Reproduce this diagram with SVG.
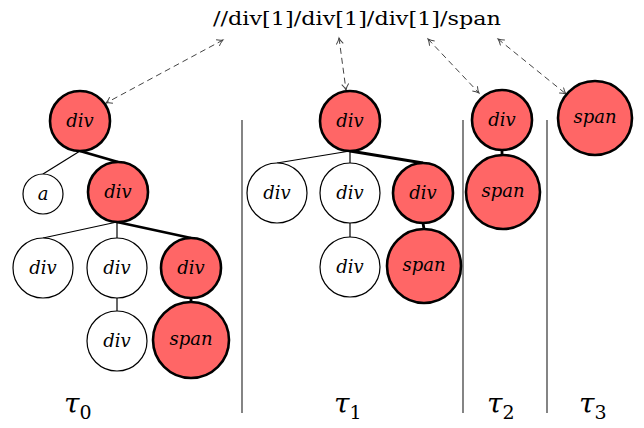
<svg xmlns="http://www.w3.org/2000/svg" width="644" height="428" viewBox="0 0 644 428">
<defs>
<marker id="ah" markerWidth="10" markerHeight="10" refX="7" refY="4" orient="auto-start-reverse" markerUnits="userSpaceOnUse">
<path d="M1,0.5 Q4,3 7,4 Q4,5 1,7.5" fill="none" stroke="#444" stroke-width="1"/>
</marker>
<style>
.w{fill:#fff;stroke:#000;stroke-width:1.2}
.r{fill:#ff6666;stroke:#000;stroke-width:2.6}
.t{font-family:"DejaVu Serif","Liberation Serif",serif;font-style:italic;font-size:18px;text-anchor:middle}
.e{stroke:#000;stroke-width:1.2;fill:none}
.eb{stroke:#000;stroke-width:2.8;fill:none}
.sep{stroke:#333;stroke-width:1.2}
.d{stroke:#444;stroke-width:1;stroke-dasharray:6 4;fill:none;marker-start:url(#ah);marker-end:url(#ah)}
.tau{font-family:"DejaVu Serif","Liberation Serif",serif;font-style:italic;font-size:28px}
.sub{font-family:"DejaVu Serif","Liberation Serif",serif;font-style:normal;font-size:19px}
.top{font-family:"DejaVu Serif","Liberation Serif",serif;font-size:19px}
</style>
</defs>
<rect width="644" height="428" fill="#fff"/>
<text class="top" x="213" y="25" textLength="288" lengthAdjust="spacingAndGlyphs">//div[1]/div[1]/div[1]/span</text>
<g id="connectors">
<line class="e" x1="80" y1="151" x2="43" y2="174"/>
<line class="eb" x1="80" y1="151" x2="118" y2="162"/>
<line class="e" x1="117" y1="222" x2="43" y2="238"/>
<line class="e" x1="117" y1="222" x2="117" y2="238"/>
<line class="eb" x1="117" y1="222" x2="191" y2="238"/>
<line class="e" x1="117" y1="298" x2="117" y2="312"/>
<line class="eb" x1="191" y1="298" x2="191" y2="303"/>
<line class="e" x1="350" y1="151" x2="277" y2="163"/>
<line class="e" x1="350" y1="151" x2="350" y2="163"/>
<line class="eb" x1="350" y1="151" x2="423" y2="163"/>
<line class="e" x1="350" y1="223" x2="350" y2="237"/>
<line class="eb" x1="423" y1="223" x2="424" y2="229"/>
<line class="eb" x1="502" y1="150" x2="502" y2="156"/>
<line class="d" x1="223" y1="40" x2="106" y2="103"/>
<line class="d" x1="339" y1="38" x2="346" y2="90"/>
<line class="d" x1="428" y1="39" x2="479" y2="93"/>
<line class="d" x1="498" y1="39" x2="566" y2="94"/>
</g>
<g id="separators">
<line class="sep" x1="242" y1="120" x2="242" y2="413"/>
<line class="sep" x1="463" y1="120" x2="463" y2="413"/>
<line class="sep" x1="547" y1="120" x2="547" y2="413"/>
</g>
<g id="t0-div-root"><circle class="r" cx="80" cy="121" r="30"/><text class="t" x="80" y="127">div</text></g>
<g id="t0-a"><circle class="w" cx="43" cy="194" r="20"/><text class="t" x="43" y="200">a</text></g>
<g id="t0-div-2"><circle class="r" cx="118" cy="192" r="30"/><text class="t" x="118" y="198">div</text></g>
<g id="t0-div-3a"><circle class="w" cx="43" cy="268" r="30"/><text class="t" x="43" y="274">div</text></g>
<g id="t0-div-3b"><circle class="w" cx="117" cy="268" r="30"/><text class="t" x="117" y="274">div</text></g>
<g id="t0-div-3c"><circle class="r" cx="191" cy="268" r="30"/><text class="t" x="191" y="274">div</text></g>
<g id="t0-div-4"><circle class="w" cx="117" cy="341" r="30"/><text class="t" x="117" y="347">div</text></g>
<g id="t0-span"><circle class="r" cx="191" cy="340" r="38"/><text class="t" x="191" y="345">span</text></g>
<g id="t1-div-root"><circle class="r" cx="350" cy="121" r="30"/><text class="t" x="350" y="127">div</text></g>
<g id="t1-div-a"><circle class="w" cx="277" cy="193" r="30"/><text class="t" x="277" y="199">div</text></g>
<g id="t1-div-b"><circle class="w" cx="350" cy="193" r="30"/><text class="t" x="350" y="199">div</text></g>
<g id="t1-div-c"><circle class="r" cx="423" cy="193" r="30"/><text class="t" x="423" y="199">div</text></g>
<g id="t1-div-d"><circle class="w" cx="350" cy="267" r="30"/><text class="t" x="350" y="273">div</text></g>
<g id="t1-span"><circle class="r" cx="424" cy="266" r="37"/><text class="t" x="424" y="271">span</text></g>
<g id="t2-div"><circle class="r" cx="502" cy="120" r="30"/><text class="t" x="502" y="126">div</text></g>
<g id="t2-span"><circle class="r" cx="503" cy="192" r="37"/><text class="t" x="503" y="197">span</text></g>
<g id="t3-span"><circle class="r" cx="595" cy="118" r="37"/><text class="t" x="595" y="123">span</text></g>
<g id="labels">
<text x="64" y="413" class="tau">τ<tspan class="sub" dy="6">0</tspan></text>
<text x="334" y="413" class="tau">τ<tspan class="sub" dy="6">1</tspan></text>
<text x="487" y="413" class="tau">τ<tspan class="sub" dy="6">2</tspan></text>
<text x="579" y="413" class="tau">τ<tspan class="sub" dy="6">3</tspan></text>
</g>
</svg>
